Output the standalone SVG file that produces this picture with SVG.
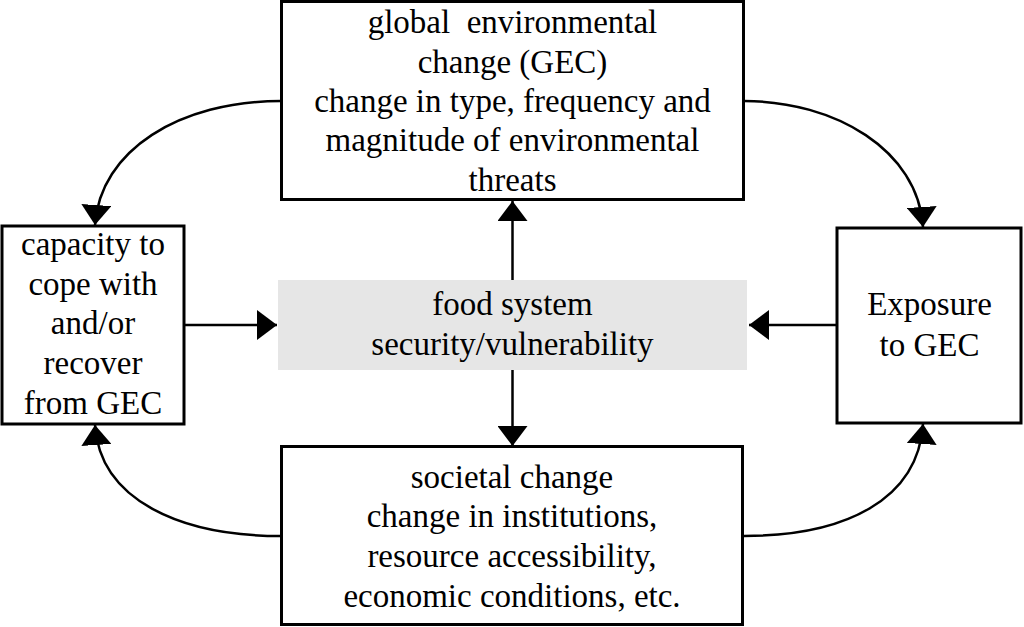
<svg xmlns="http://www.w3.org/2000/svg" width="1024" height="627" viewBox="0 0 1024 627">
<style>
.box{fill:#fff;stroke:#000;stroke-width:3}
.hub{fill:#e6e6e6;stroke:none}
.t{font-family:"Liberation Serif","Times New Roman",serif;font-size:33px;fill:#000;text-anchor:middle}
.c{fill:none;stroke:#000;stroke-width:2.5}
</style>
<defs>
<marker id="ah" markerUnits="userSpaceOnUse" viewBox="0 0 20 30" refX="20" refY="15" markerWidth="20" markerHeight="30" orient="auto">
<path d="M0,0 L20,15 L0,30 z" fill="#000"/>
</marker>
</defs>
<rect width="1024" height="627" fill="#fff"/>
<g id="connectors">
<path class="c" d="M281,101 C180,101 100,150 95,225" marker-end="url(#ah)"/>
<path class="c" d="M744,101 C835,101 918,150 923,227" marker-end="url(#ah)"/>
<path class="c" d="M281,536 C180,536 100,500 95,425" marker-end="url(#ah)"/>
<path class="c" d="M744,536 C845,536 918,500 923,424" marker-end="url(#ah)"/>
<path class="c" d="M185,325 L277,325" marker-end="url(#ah)"/>
<path class="c" d="M837,325 L749,325" marker-end="url(#ah)"/>
<path class="c" d="M512.5,280 L512.5,201" marker-end="url(#ah)"/>
<path class="c" d="M512.5,370 L512.5,446" marker-end="url(#ah)"/>
</g>
<g id="gec">
<rect class="box" x="281.5" y="1.5" width="462" height="198"/>
<text class="t" xml:space="preserve"><tspan x="512.5" y="33">global  environmental</tspan><tspan x="512.5" y="72.5">change (GEC)</tspan><tspan x="512.5" y="112">change in type, frequency and</tspan><tspan x="512.5" y="151">magnitude of environmental</tspan><tspan x="512.5" y="191">threats</tspan></text>
</g>
<g id="capacity">
<rect class="box" x="2" y="226" width="182" height="198"/>
<text class="t"><tspan x="93" y="255">capacity to</tspan><tspan x="93" y="295">cope with</tspan><tspan x="93" y="334">and/or</tspan><tspan x="93" y="374">recover</tspan><tspan x="93" y="414">from GEC</tspan></text>
</g>
<g id="exposure">
<rect class="box" x="837" y="228" width="184" height="195"/>
<text class="t"><tspan x="929.5" y="315">Exposure</tspan><tspan x="929.5" y="356">to GEC</tspan></text>
</g>
<g id="food">
<rect class="hub" x="278" y="280" width="469" height="90"/>
<text class="t"><tspan x="512.5" y="315">food system</tspan><tspan x="512.5" y="355">security/vulnerability</tspan></text>
</g>
<g id="societal">
<rect class="box" x="281.5" y="446.5" width="461" height="178"/>
<text class="t"><tspan x="512" y="488">societal change</tspan><tspan x="512" y="527">change in institutions,</tspan><tspan x="512" y="567">resource accessibility,</tspan><tspan x="512" y="607">economic conditions, etc.</tspan></text>
</g>
</svg>
